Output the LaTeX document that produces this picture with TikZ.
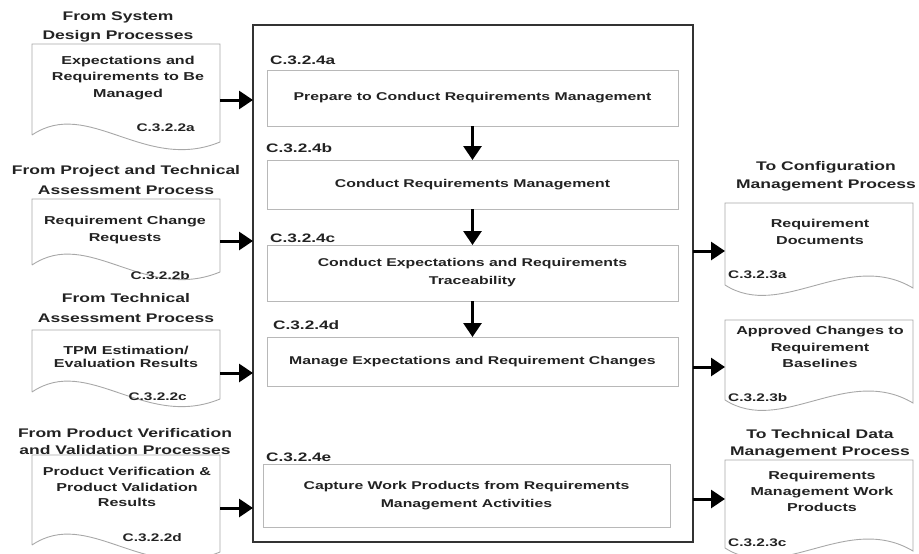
\documentclass[tikz,border=0pt]{standalone}
\usepackage{fontspec}
\setmainfont{Liberation Sans}[FakeStretch=1.4]
\usetikzlibrary{arrows.meta}
\definecolor{txt}{HTML}{222222}
\definecolor{boxline}{HTML}{B8B8B8}
\definecolor{docline}{HTML}{A8A8A8}
\definecolor{mainline}{HTML}{333333}
\newcommand\leftdoc[2]{%
  \draw[doc] (32,#2) -- (32,#1) -- (220,#1) -- (220,#2+7)
    .. controls (144.8,#2+38) and (88.4,#2-38) .. (32,#2);}
\newcommand\rightdoc[2]{%
  \draw[doc] (725,#2) -- (725,#1) -- (913,#1) -- (913,#2+3)
    .. controls (847.2,#2-36) and (781.4,#2+36) .. (725,#2);}
\begin{document}
\begin{tikzpicture}[x=1pt,y=-1pt,
  every node/.style={text=txt},
  head/.style={align=center,inner sep=0pt,font=\bfseries\fontsize{12.5}{19}\selectfont},
  dtext/.style={align=center,inner sep=0pt,font=\bfseries\fontsize{11.5}{16.5}\selectfont},
  dcode/.style={inner sep=0pt,font=\bfseries\fontsize{11}{13}\selectfont},
  pcode/.style={inner sep=0pt,anchor=west,font=\bfseries\fontsize{12.3}{14}\selectfont},
  doc/.style={draw=docline,line width=0.9pt},
  pbox/.style={draw=boxline,line width=1pt,inner sep=0pt,outer sep=0pt,align=center,
    minimum width=411pt,font=\bfseries\fontsize{11.3}{18}\selectfont},
  mainbox/.style={draw=mainline,line width=1.6pt,inner sep=0pt,outer sep=0pt,
    minimum width=440pt,minimum height=517pt},
  arr/.style={draw=black,line width=3pt,-{Triangle[length=14pt,width=18pt]}}]
\useasboundingbox (0,0) rectangle (919,554);

% main box
\node[mainbox] (main) at (473,283.5) {};

% process boxes
\node[pbox,minimum height=56pt] (A) at (472.5,98) {Prepare to Conduct Requirements Management};
\node[pbox,minimum height=49pt] (B) at (472.5,184.5) {Conduct Requirements Management};
\node[pbox,minimum height=56pt] (C) at (472.5,273) {Conduct Expectations and Requirements\\Traceability};
\node[pbox,minimum height=49pt] (D) at (472.5,361.5) {Manage Expectations and Requirement Changes};
\node[pbox,minimum height=63pt,minimum width=407pt] (E) at (466.5,495.5) {Capture Work Products from Requirements\\Management Activities};

\node[pcode] (cA) at (270,60) {C.3.2.4a};
\node[pcode] (cB) at (266,148) {C.3.2.4b};
\node[pcode] (cC) at (270,238) {C.3.2.4c};
\node[pcode] (cD) at (273,325) {C.3.2.4d};
\node[pcode] (cE) at (266,457) {C.3.2.4e};

\draw[arr] (A.south) -- (B.north);
\draw[arr] (B.south) -- (C.north);
\draw[arr] (C.south) -- (D.north);

% left documents
\leftdoc{44}{135}
\leftdoc{199}{265}
\leftdoc{330}{392}
\leftdoc{455}{545}

\node[head] (h1) at (118,26.5) {From System\\Design Processes};
\node[head,font=\bfseries\fontsize{12.5}{20}\selectfont] (h2) at (126,180) {From Project and Technical\\Assessment Process};
\node[head,font=\bfseries\fontsize{12.5}{20}\selectfont] (h3) at (126,308) {From Technical\\Assessment Process};
\node[head,font=\bfseries\fontsize{12.5}{17}\selectfont] (h4) at (125,441.5) {From Product Verification\\and Validation Processes};

\node[dtext] (t1) at (128,78) {Expectations and\\Requirements to Be\\Managed};
\node[dtext,font=\bfseries\fontsize{11.5}{17}\selectfont] (t2) at (125,230.5) {Requirement Change\\Requests};
\node[dtext,font=\bfseries\fontsize{11.5}{13}\selectfont] (t3) at (126,357) {TPM Estimation/\\Evaluation Results};
\node[dtext,font=\bfseries\fontsize{11.5}{15.5}\selectfont] (t4) at (127,487) {Product Verification \&\\Product Validation\\Results};

\node[dcode,anchor=east] (k1) at (195,128) {C.3.2.2a};
\node[dcode,anchor=east] (k2) at (190,276) {C.3.2.2b};
\node[dcode,anchor=east] (k3) at (187,397) {C.3.2.2c};
\node[dcode,anchor=east] (k4) at (182,538) {C.3.2.2d};

\coordinate (in1) at (220,100);
\coordinate (in2) at (220,241);
\coordinate (in3) at (220,373);
\coordinate (in4) at (220,508);
\draw[arr] (in1) -- (in1 -| main.west);
\draw[arr] (in2) -- (in2 -| main.west);
\draw[arr] (in3) -- (in3 -| main.west);
\draw[arr] (in4) -- (in4 -| main.west);

% right documents
\rightdoc{203}{285}
\rightdoc{320}{400}
\rightdoc{460}{548}

\node[head,font=\bfseries\fontsize{12.5}{18}\selectfont] (r1) at (826,176) {To Configuration\\Management Process};
\node[head,font=\bfseries\fontsize{12.5}{17}\selectfont] (r2) at (820,443.5) {To Technical Data\\Management Process};

\node[dtext,font=\bfseries\fontsize{11.5}{17}\selectfont] (u1) at (820,231.5) {Requirement\\Documents};
\node[dtext] (u2) at (820,347) {Approved Changes to\\Requirement\\Baselines};
\node[dtext,font=\bfseries\fontsize{11.5}{16}\selectfont] (u3) at (822,491) {Requirements\\Management Work\\Products};

\node[dcode,anchor=west] (m1) at (728,275) {C.3.2.3a};
\node[dcode,anchor=west] (m2) at (728,398) {C.3.2.3b};
\node[dcode,anchor=west] (m3) at (728,543) {C.3.2.3c};

\coordinate (out1) at (725,251);
\coordinate (out2) at (725,367);
\coordinate (out3) at (725,499);
\draw[arr] (out1 -| main.east) -- (out1);
\draw[arr] (out2 -| main.east) -- (out2);
\draw[arr] (out3 -| main.east) -- (out3);
\end{tikzpicture}
\end{document}
